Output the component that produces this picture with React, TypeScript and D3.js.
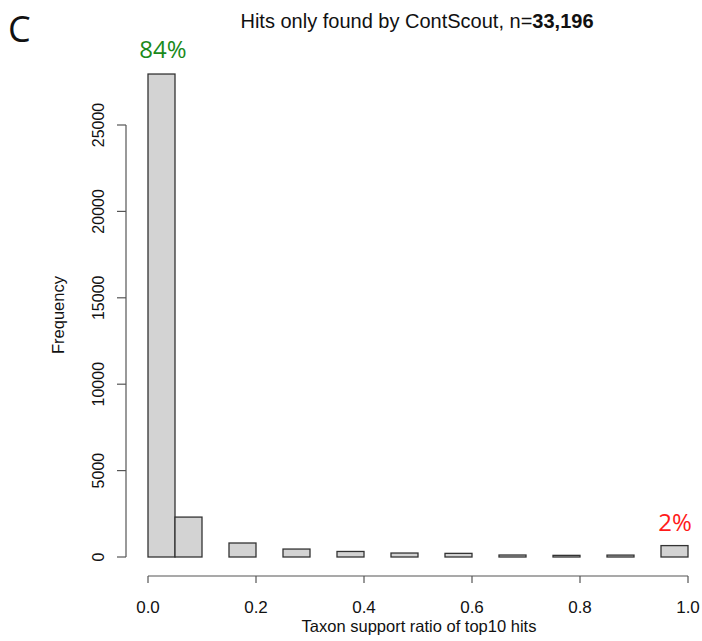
import React from "react";
import * as d3 from "d3";

// histogram bins (width 0.05) and their counts
const binStarts = [0, 0.05, 0.1, 0.15, 0.2, 0.25, 0.3, 0.35, 0.4, 0.45, 0.5, 0.55, 0.6, 0.65, 0.7, 0.75, 0.8, 0.85, 0.9, 0.95];
const counts = [27950, 2310, 0, 810, 0, 460, 0, 320, 0, 230, 0, 210, 0, 115, 0, 95, 0, 110, 0, 660];
const xTicks = [0, 0.2, 0.4, 0.6, 0.8, 1.0];
const yTicks = [0, 5000, 10000, 15000, 20000, 25000];
const binWidth = 0.05;

export default function App() {
  const width = 702;
  const height = 641;
  const font = "'Liberation Sans', Arial, sans-serif";

  const x = d3.scaleLinear().domain([0, 1]).range([148, 688]);
  const y = d3.scaleLinear().domain([0, 25000]).range([557, 125]);

  const axisColor = "#555";

  return (
    <svg width={width} height={height} style={{ position: "absolute", left: 0, top: 0, background: "#fff" }}>
      {/* panel letter */}
      <text x={8} y={42} fontFamily="'Open Sans', sans-serif" fontSize={36} fill="#111">C</text>

      {/* title */}
      <text x={417} y={28} textAnchor="middle" fontFamily={font} fontSize={20} fill="#111">
        Hits only found by ContScout, n=<tspan fontWeight="bold">33,196</tspan>
      </text>

      {/* bars */}
      <g fill="#d3d3d3" stroke="#333" strokeWidth={1.3}>
        {binStarts.map((b, i) => (
          <rect
            key={i}
            x={x(b)}
            y={y(counts[i])}
            width={x(b + binWidth) - x(b)}
            height={y(0) - y(counts[i])}
          />
        ))}
      </g>

      {/* percentage annotations */}
      <text x={163} y={58} textAnchor="middle" fontFamily="'Open Sans', sans-serif" fontSize={24} fill="#1a8a1a">84%</text>
      <text x={675} y={531} textAnchor="middle" fontFamily="'Open Sans', sans-serif" fontSize={24} fill="#ff1a1a">2%</text>

      {/* x axis */}
      <g stroke={axisColor} strokeWidth={1.2} fill="none">
        <line x1={x(0)} x2={x(1)} y1={576} y2={576} />
        {xTicks.map((t) => (
          <line key={t} x1={x(t)} x2={x(t)} y1={576} y2={583} />
        ))}
      </g>
      {xTicks.map((t) => (
        <text key={t} x={x(t)} y={613} textAnchor="middle" fontFamily={font} fontSize={17} fill="#111">
          {t.toFixed(1)}
        </text>
      ))}
      <text x={419} y={632} textAnchor="middle" fontFamily={font} fontSize={16.5} fill="#111">
        Taxon support ratio of top10 hits
      </text>

      {/* y axis */}
      <g stroke={axisColor} strokeWidth={1.2} fill="none">
        <line x1={126} x2={126} y1={y(0)} y2={y(25000)} />
        {yTicks.map((t) => (
          <line key={t} x1={117} x2={126} y1={y(t)} y2={y(t)} />
        ))}
      </g>
      {yTicks.map((t) => (
        <text
          key={t}
          transform={`translate(104, ${y(t)}) rotate(-90)`}
          textAnchor="middle"
          fontFamily={font}
          fontSize={16}
          fill="#111"
        >
          {t}
        </text>
      ))}
      <text
        transform={`translate(64, ${y(12500) - 26}) rotate(-90)`}
        textAnchor="middle"
        fontFamily={font}
        fontSize={16.5}
        fill="#111"
      >
        Frequency
      </text>
    </svg>
  );
}
